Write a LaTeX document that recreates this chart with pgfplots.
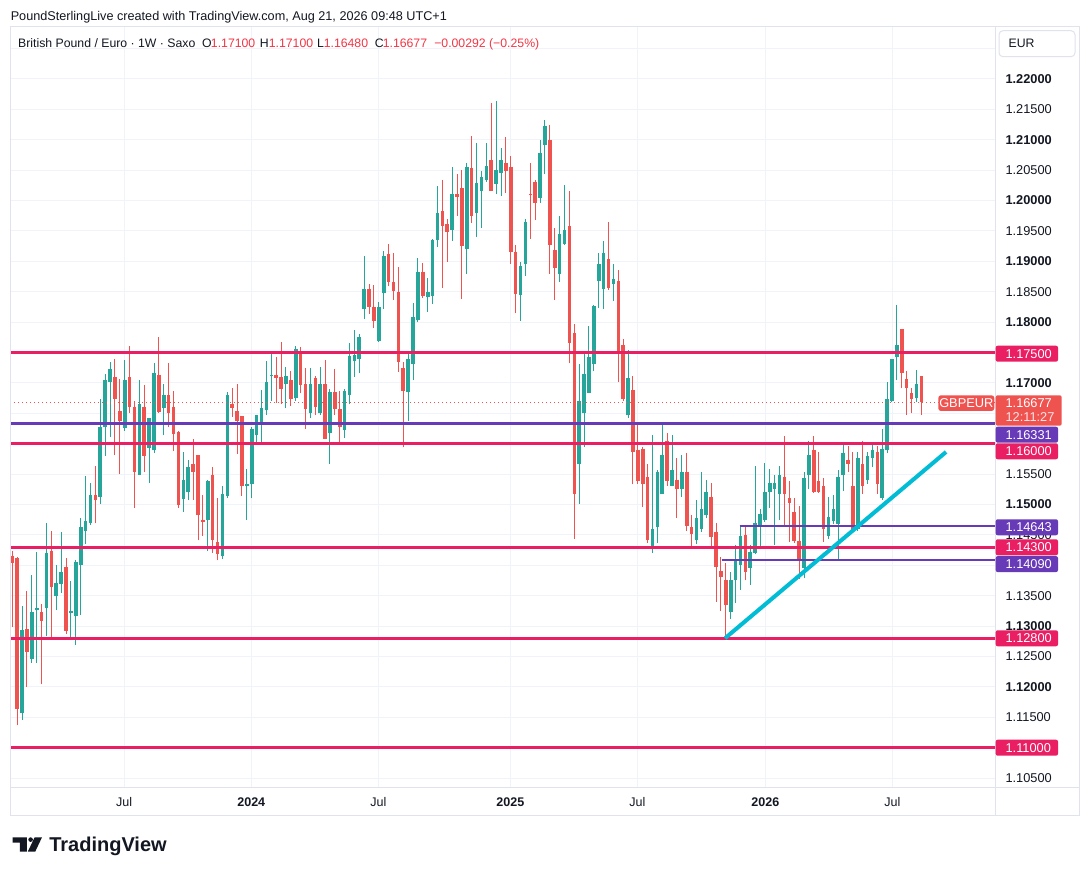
\documentclass[border=0pt]{standalone}
\usepackage{pgfplots}
\usepackage{pgfplotstable}
\pgfplotsset{compat=1.18}
\usepackage{fontspec}
\setmainfont{Liberation Sans}
\definecolor{upc}{HTML}{26A69A}
\definecolor{dnc}{HTML}{EF5350}
\definecolor{hdred}{HTML}{F23645}
\definecolor{pinkc}{HTML}{E91E63}
\definecolor{purc}{HTML}{673AB7}
\definecolor{cyanc}{HTML}{00BCD4}
\definecolor{textc}{HTML}{131722}
\definecolor{gridc}{HTML}{F0F3FA}
\definecolor{bordc}{HTML}{E0E3EB}
\newcommand\hfont{\fontsize{9.5}{11}\selectfont}
\newcommand\lfont{\fontsize{9.2}{11}\selectfont}
\newcommand\pfont{\fontsize{9.6}{11}\selectfont}
\newcommand\xfont{\fontsize{9.4}{11}\selectfont}

\pgfplotstableread{
x o h l c
3 1.1157 1.1333 1.1146 1.1294
5 1.1246 1.1384 1.1240 1.1323
6 1.1327 1.1422 1.1240 1.1330
8 1.1330 1.1470 1.1283 1.1420
10 1.1350 1.1401 1.1326 1.1371
11 1.1370 1.1455 1.1355 1.1389
13 1.1322 1.1374 1.1281 1.1325
14 1.1316 1.1409 1.1269 1.1406
15 1.1401 1.1477 1.1318 1.1463
16 1.1457 1.1547 1.1435 1.1473
17 1.1470 1.1536 1.1467 1.1516
19 1.1512 1.1673 1.1501 1.1628
20 1.1627 1.1714 1.1580 1.1705
21 1.1702 1.1735 1.1611 1.1723
24 1.1626 1.1738 1.1621 1.1705
27 1.1549 1.1704 1.1548 1.1665
29 1.1593 1.1642 1.1535 1.1642
30 1.1589 1.1732 1.1584 1.1716
32 1.1659 1.1699 1.1614 1.1680
36 1.1509 1.1587 1.1488 1.1541
37 1.1520 1.1574 1.1508 1.1561
41 1.1474 1.1541 1.1424 1.1538
44 1.1415 1.1531 1.1410 1.1518
45 1.1514 1.1685 1.1510 1.1680
49 1.1530 1.1558 1.1475 1.1534
50 1.1533 1.1628 1.1510 1.1624
51 1.1614 1.1648 1.1602 1.1647
52 1.1634 1.1689 1.1602 1.1658
53 1.1655 1.1736 1.1648 1.1701
54 1.1711 1.1747 1.1671 1.1713
57 1.1698 1.1726 1.1658 1.1711
59 1.1675 1.1760 1.1671 1.1756
62 1.1650 1.1724 1.1643 1.1699
64 1.1650 1.1726 1.1648 1.1699
66 1.1617 1.1690 1.1567 1.1685
69 1.1622 1.1690 1.1609 1.1686
70 1.1680 1.1765 1.1665 1.1744
71 1.1736 1.1787 1.1710 1.1746
72 1.1739 1.1780 1.1716 1.1775
73 1.1822 1.1909 1.1805 1.1855
76 1.1769 1.1833 1.1767 1.1825
77 1.1848 1.1917 1.1822 1.1909
82 1.1685 1.1751 1.1638 1.1739
83 1.1731 1.1831 1.1704 1.1808
84 1.1803 1.1906 1.1800 1.1883
86 1.1841 1.1873 1.1817 1.1850
87 1.1843 1.1937 1.1830 1.1935
88 1.1935 1.2024 1.1924 1.1980
91 1.1952 1.2056 1.1934 1.2011
94 1.1921 1.2061 1.1879 1.2056
96 1.1980 1.2095 1.1940 1.2029
97 1.2015 1.2048 1.1955 1.2039
98 1.2034 1.2095 1.2031 1.2057
100 1.2028 1.2163 1.2010 1.2051
101 1.2046 1.2086 1.2008 1.2067
105 1.1845 1.1899 1.1802 1.1892
106 1.1896 1.1970 1.1876 1.1965
109 1.2005 1.2100 1.1996 1.2079
110 1.2092 1.2133 1.2043 1.2123
113 1.1879 1.1975 1.1866 1.1945
114 1.1929 1.2026 1.1927 1.1952
117 1.1566 1.1731 1.1501 1.1670
118 1.1650 1.1751 1.1595 1.1714
119 1.1683 1.1793 1.1683 1.1742
120 1.1731 1.1828 1.1719 1.1826
121 1.1868 1.1914 1.1823 1.1896
122 1.1855 1.1934 1.1822 1.1914
124 1.1863 1.1896 1.1835 1.1871
127 1.1647 1.1754 1.1643 1.1708
132 1.1426 1.1614 1.1421 1.1459
133 1.1463 1.1556 1.1437 1.1553
134 1.1518 1.1633 1.1518 1.1581
136 1.1531 1.1615 1.1530 1.1556
138 1.1525 1.1581 1.1513 1.1553
141 1.1442 1.1508 1.1435 1.1478
142 1.1460 1.1553 1.1455 1.1493
143 1.1483 1.1541 1.1477 1.1521
148 1.1323 1.1389 1.1312 1.1376
149 1.1375 1.1434 1.1338 1.1409
150 1.1401 1.1465 1.1360 1.1449
152 1.1396 1.1434 1.1368 1.1422
153 1.1421 1.1564 1.1419 1.1470
154 1.1464 1.1493 1.1426 1.1485
155 1.1475 1.1569 1.1472 1.1520
156 1.1521 1.1559 1.1495 1.1536
157 1.1526 1.1549 1.1434 1.1535
158 1.1518 1.1563 1.1474 1.1548
163 1.1396 1.1553 1.1379 1.1543
164 1.1548 1.1604 1.1525 1.1582
168 1.1449 1.1513 1.1444 1.1480
169 1.1473 1.1515 1.1468 1.1492
170 1.1468 1.1556 1.1411 1.1546
171 1.1549 1.1600 1.1523 1.1584
174 1.1459 1.1587 1.1457 1.1577
176 1.1541 1.1587 1.1534 1.1579
177 1.1576 1.1602 1.1561 1.1589
179 1.1510 1.1625 1.1508 1.1592
180 1.1589 1.1701 1.1584 1.1673
181 1.1671 1.1739 1.1668 1.1739
182 1.1742 1.1828 1.1704 1.1762
186 1.1675 1.1721 1.1668 1.1698
}\uptab

\pgfplotstableread{
x o h l c
1 1.1416 1.1424 1.1298 1.1404
2 1.1412 1.1413 1.1137 1.1164
4 1.1295 1.1358 1.1200 1.1258
7 1.1323 1.1336 1.1204 1.1309
9 1.1424 1.1457 1.1280 1.1365
12 1.1397 1.1412 1.1287 1.1292
18 1.1516 1.1563 1.1469 1.1508
22 1.1709 1.1739 1.1581 1.1673
23 1.1653 1.1706 1.1550 1.1637
25 1.1709 1.1761 1.1651 1.1660
26 1.1661 1.1670 1.1494 1.1553
28 1.1661 1.1696 1.1553 1.1580
31 1.1713 1.1775 1.1651 1.1652
33 1.1680 1.1732 1.1628 1.1651
34 1.1661 1.1687 1.1588 1.1616
35 1.1620 1.1621 1.1494 1.1499
38 1.1566 1.1607 1.1508 1.1553
39 1.1581 1.1582 1.1441 1.1482
40 1.1475 1.1516 1.1449 1.1472
42 1.1549 1.1561 1.1421 1.1441
43 1.1438 1.1510 1.1408 1.1418
46 1.1665 1.1691 1.1644 1.1659
47 1.1653 1.1698 1.1583 1.1637
48 1.1645 1.1646 1.1514 1.1530
55 1.1713 1.1742 1.1667 1.1708
56 1.1709 1.1767 1.1666 1.1690
58 1.1704 1.1719 1.1662 1.1673
60 1.1749 1.1759 1.1683 1.1696
61 1.1698 1.1724 1.1625 1.1657
63 1.1708 1.1711 1.1648 1.1660
65 1.1698 1.1737 1.1608 1.1608
67 1.1685 1.1723 1.1648 1.1657
68 1.1657 1.1686 1.1601 1.1627
74 1.1855 1.1863 1.1813 1.1825
75 1.1825 1.1861 1.1790 1.1802
78 1.1912 1.1929 1.1859 1.1866
79 1.1866 1.1914 1.1836 1.1851
80 1.1850 1.1891 1.1718 1.1734
81 1.1724 1.1734 1.1594 1.1686
85 1.1883 1.1897 1.1840 1.1843
89 1.1983 1.2033 1.1856 1.1958
90 1.1962 1.1970 1.1899 1.1949
92 1.2011 1.2044 1.1975 1.2006
93 1.2021 1.2051 1.1838 1.1925
95 1.2054 1.2107 1.1963 1.1974
99 1.2067 1.2160 1.2016 1.2016
102 1.2061 1.2104 1.2013 1.2049
103 1.2056 1.2074 1.1896 1.1916
104 1.1916 1.1927 1.1815 1.1846
107 1.2011 1.2062 1.1937 1.2009
108 1.2031 1.2034 1.1968 1.1996
111 1.2100 1.2125 1.1879 1.1927
112 1.1919 1.1955 1.1836 1.1889
115 1.1958 1.2016 1.1732 1.1765
116 1.1782 1.1797 1.1444 1.1518
123 1.1904 1.1965 1.1853 1.1856
125 1.1868 1.1886 1.1701 1.1749
126 1.1762 1.1772 1.1670 1.1673
128 1.1688 1.1711 1.1533 1.1586
129 1.1590 1.1633 1.1534 1.1539
130 1.1592 1.1594 1.1496 1.1534
131 1.1546 1.1566 1.1437 1.1442
135 1.1605 1.1617 1.1531 1.1539
137 1.1541 1.1577 1.1477 1.1526
139 1.1554 1.1584 1.1457 1.1465
140 1.1463 1.1483 1.1427 1.1452
144 1.1513 1.1535 1.1432 1.1447
145 1.1455 1.1469 1.1340 1.1398
146 1.1391 1.1414 1.1325 1.1381
147 1.1376 1.1404 1.1277 1.1335
151 1.1450 1.1467 1.1375 1.1389
159 1.1546 1.1612 1.1467 1.1518
160 1.1510 1.1539 1.1439 1.1503
161 1.1488 1.1511 1.1437 1.1440
162 1.1440 1.1497 1.1378 1.1409
165 1.1589 1.1612 1.1519 1.1521
166 1.1539 1.1586 1.1519 1.1521
167 1.1530 1.1543 1.1439 1.1459
172 1.1574 1.1597 1.1553 1.1566
173 1.1530 1.1587 1.1455 1.1457
175 1.1566 1.1604 1.1518 1.1530
178 1.1587 1.1597 1.1518 1.1534
183 1.1789 1.1789 1.1691 1.1716
184 1.1706 1.1719 1.1647 1.1691
185 1.1683 1.1691 1.1650 1.1673
187 1.1711 1.1711 1.1648 1.1668
}\dntab

\begin{document}
\begin{tikzpicture}
\path[use as bounding box, fill=white] (0pt,0pt) rectangle (816.75pt,656.25pt);
\begin{axis}[
  at={(7.5pt,66pt)}, anchor=south west,
  scale only axis, width=738.75pt, height=570pt,
  xmin=0.53, xmax=202.08, ymin=1.10353, ymax=1.22855,
  axis line style={draw=bordc, line width=0.75pt},
  major tick length=0pt, tick style={draw=none},
  grid=major, major grid style={draw=gridc, line width=0.75pt},
  xtick={23.9,49.9,75.9,102.9,128.9,155.1,181.1},
  xticklabels={Jul,\textbf{2024},Jul,\textbf{2025},Jul,\textbf{2026},Jul},
  xticklabel style={anchor=base, yshift=-14.25pt, inner sep=0pt, font=\xfont, text=textc},
  ytick={1.105,1.110,1.115,1.120,1.125,1.130,1.135,1.140,1.145,1.150,1.155,1.160,1.165,1.170,1.175,1.180,1.185,1.190,1.195,1.200,1.205,1.210,1.215,1.220,1.225},
  yticklabels={1.10500,{},1.11500,\textbf{1.12000},1.12500,\textbf{1.13000},1.13500,{},1.14500,\textbf{1.15000},1.15500,{},{},\textbf{1.17000},{},\textbf{1.18000},1.18500,\textbf{1.19000},1.19500,\textbf{1.20000},1.20500,\textbf{1.21000},1.21500,\textbf{1.22000},{}},
  yticklabel pos=right,
  yticklabel style={anchor=west, xshift=7.7pt, inner sep=0pt, font=\pfont, text=textc},
]
% wicks
\addplot[upc, line width=0.75pt, -, quiver={u=0, v=\thisrow{h}-\thisrow{l}}] table[x=x, y=l]{\uptab};
\addplot[dnc, line width=0.75pt, -, quiver={u=0, v=\thisrow{h}-\thisrow{l}}] table[x=x, y=l]{\dntab};
% bodies
\addplot[upc, line width=2.7pt, -, quiver={u=0, v=\thisrow{c}-\thisrow{o}}] table[x=x, y=o]{\uptab};
\addplot[dnc, line width=2.7pt, -, quiver={u=0, v=\thisrow{c}-\thisrow{o}}] table[x=x, y=o]{\dntab};
% current price line
\addplot[dnc, line width=0.75pt, dash pattern=on 0.75pt off 2.25pt] coordinates {(0.53,1.16677) (202.08,1.16677)};
% levels
\addplot[pinkc, line width=2.25pt] coordinates {(0.53,1.175) (202.08,1.175)};
\addplot[pinkc, line width=2.25pt] coordinates {(0.53,1.160) (202.08,1.160)};
\addplot[pinkc, line width=2.25pt] coordinates {(0.53,1.143) (202.08,1.143)};
\addplot[pinkc, line width=2.25pt] coordinates {(0.53,1.128) (202.08,1.128)};
\addplot[pinkc, line width=2.25pt] coordinates {(0.53,1.110) (202.08,1.110)};
\addplot[purc, line width=2pt] coordinates {(0.53,1.16331) (202.08,1.16331)};
\addplot[purc, line width=1.5pt] coordinates {(149.8,1.14643) (202.08,1.14643)};
\addplot[purc, line width=1.5pt] coordinates {(146.2,1.14090) (202.08,1.14090)};
% trend line
\addplot[cyanc, line width=3pt] coordinates {(146.84,1.1280) (192.06,1.15864)};
\end{axis}

\begin{scope}[shift={(0pt,656.25pt)}, x=0.75pt, y=-0.75pt]
% frame
\draw[bordc, line width=0.75pt] (10,26.7) rectangle (1079,815);
\draw[bordc, line width=0.75pt] (995.5,26.7) -- (995.5,815);
\draw[bordc, line width=0.75pt] (10,787.3) -- (1079,787.3);
% header
\node[anchor=base west, inner sep=0pt, font=\hfont, text=textc] at (10.5,20.3) {PoundSterlingLive created with TradingView.com, Aug 21, 2026 09:48 UTC+1};
\node[anchor=base west, inner sep=0pt, font=\lfont, text=textc] at (17.9,47.3) {British Pound / Euro · 1W · Saxo};
\node[anchor=base west, inner sep=0pt, font=\lfont, text=textc] at (201.8,47.3) {O};
\node[anchor=base west, inner sep=0pt, font=\lfont, text=hdred] at (210.7,47.3) {1.17100};
\node[anchor=base west, inner sep=0pt, font=\lfont, text=textc] at (259.6,47.3) {H};
\node[anchor=base west, inner sep=0pt, font=\lfont, text=hdred] at (268.6,47.3) {1.17100};
\node[anchor=base west, inner sep=0pt, font=\lfont, text=textc] at (316.8,47.3) {L};
\node[anchor=base west, inner sep=0pt, font=\lfont, text=hdred] at (323.5,47.3) {1.16480};
\node[anchor=base west, inner sep=0pt, font=\lfont, text=textc] at (374.5,47.3) {C};
\node[anchor=base west, inner sep=0pt, font=\lfont, text=hdred] at (382.5,47.3) {1.16677};
\node[anchor=base west, inner sep=0pt, font=\lfont, text=hdred] at (434,47.3) {−0.00292 (−0.25\%)};
% EUR box
\draw[bordc, fill=white, rounded corners=3pt, line width=0.75pt] (999,30.7) rectangle (1075,56.7);
\node[anchor=base west, inner sep=0pt, font=\lfont, text=textc] at (1008.3,47.3) {EUR};
% level labels
\foreach \yc/\col/\txt in {353.7/pinkc/1.17500, 434.7/purc/1.16331, 451.3/pinkc/1.16000, 527.3/purc/1.14643, 547.3/pinkc/1.14300, 564.1/purc/1.14090, 638.3/pinkc/1.12800, 747.7/pinkc/1.11000}{
  \fill[\col, rounded corners=1.5pt] (995.7,\yc-8) rectangle (1058,\yc+8);
  \node[anchor=base west, inner sep=0pt, font=\pfont, text=white] at (1005.3,\yc+4.5) {\txt};
}
% current price label
\fill[dnc, rounded corners=1.5pt] (995.7,395.3) rectangle (1061.7,425.7);
\node[anchor=base west, inner sep=0pt, font=\pfont, text=white] at (1005.3,407.3) {1.16677};
\node[anchor=base west, inner sep=0pt, font=\pfont, text=white, opacity=0.85] at (1005.3,421.7) {12:11:27};
\fill[dnc, rounded corners=2pt] (938.3,395.3) rectangle (994.3,411);
\node[anchor=base, inner sep=0pt, font=\pfont, text=white] at (966.3,407.6) {GBPEUR};
% TradingView logo
\fill[textc] (12.5,837.3) -- (26.8,837.3) -- (26.8,851.7) -- (19.8,851.7) -- (19.8,842.5) -- (12.5,842.5) -- cycle;
\fill[textc] (30.6,839.6) circle (2.3);
\fill[textc] (34.6,837.3) -- (42,837.3) -- (35.2,851.7) -- (27.8,851.7) -- cycle;
\node[anchor=base west, inner sep=0pt, font=\fontsize{15}{16}\selectfont\bfseries, text=textc] at (49,851.7) {TradingView};
\end{scope}
\end{tikzpicture}
\end{document}
